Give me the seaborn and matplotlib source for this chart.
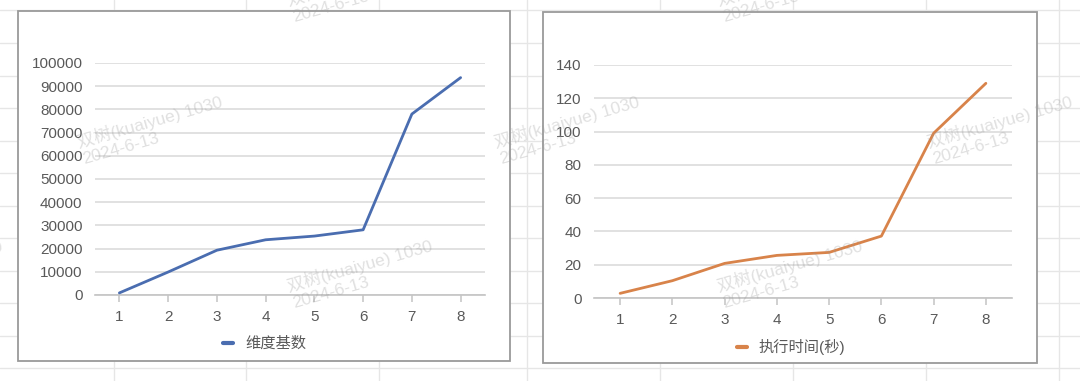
import matplotlib
matplotlib.use("Agg")
import matplotlib.pyplot as plt
from matplotlib.patches import Rectangle
from matplotlib.lines import Line2D
import seaborn as sns
import pandas as pd

# ---- data ----
categories = ['1', '2', '3', '4', '5', '6', '7', '8']
dim_cardinality = [900, 9900, 19300, 23800, 25400, 28100, 78000, 93700]
exec_time = [2.8, 10.4, 20.8, 25.6, 27.4, 37.2, 99, 129]
series_names = ['维度基数', '执行时间(秒)']
left_yticks = [0, 10000, 20000, 30000, 40000, 50000, 60000, 70000, 80000, 90000, 100000]
right_yticks = [0, 20, 40, 60, 80, 100, 120, 140]
watermark_text = '双树(kuaiyue) 1030\n2024-6-13'

sns.set_theme(style='white')
plt.rcParams['font.family'] = ['Liberation Sans', 'Noto Sans CJK SC', 'DejaVu Sans']

W, H = 1080, 381
fig = plt.figure(figsize=(W / 100, H / 100), dpi=100)
fig.patch.set_facecolor('white')

def fx(px):
    return px / W

def fy(py):
    return 1 - py / H

# spreadsheet background grid
for yy in [10, 43, 76, 108, 141, 173, 206, 238, 271, 303, 336, 368]:
    fig.add_artist(Line2D([0, 1], [fy(yy), fy(yy)], color='#e6e6e6', lw=1, zorder=-3))
for xx in [114, 246, 379, 527, 660, 793, 926, 1059]:
    fig.add_artist(Line2D([fx(xx), fx(xx)], [0, 1], color='#e6e6e6', lw=1, zorder=-3))

# panel boxes
for (x0, y0, x1, y1) in [(18, 11, 510, 361), (543, 12, 1037, 363)]:
    fig.add_artist(Rectangle((fx(x0), fy(y1)), fx(x1 - x0), (y1 - y0) / H,
                             facecolor='white', edgecolor='#9a9a9a', lw=1.3, zorder=-1))

tick_color = '#595959'
grid_color = '#d9d9d9'

def style_axes(ax, yticks):
    ax.set_facecolor('none')
    ax.set_xlim(-0.5, len(categories) - 0.5)
    ax.set_ylim(yticks[0], yticks[-1])
    ax.set_yticks(yticks)
    ax.set_yticklabels([str(v) for v in yticks])
    ax.set_xticks(range(len(categories)))
    ax.set_xticklabels(categories)
    ax.set_xlabel('')
    ax.set_ylabel('')
    for s in ['top', 'left', 'right']:
        ax.spines[s].set_visible(False)
    ax.spines['bottom'].set_color('#c4c4c4')
    ax.spines['bottom'].set_linewidth(1.2)
    ax.spines['bottom'].set_zorder(1)
    ax.yaxis.grid(True, color=grid_color, lw=1.1)
    ax.xaxis.grid(False)
    ax.set_axisbelow(True)
    ax.tick_params(axis='y', length=0, pad=9, labelsize=11, labelcolor=tick_color)
    ax.tick_params(axis='x', length=5, width=1.1, color='#c4c4c4', direction='out',
                   pad=6, labelsize=11, labelcolor=tick_color, bottom=True)
    if ax.get_legend() is not None:
        ax.get_legend().remove()

df_left = pd.DataFrame({'x': categories, 'y': dim_cardinality})
df_right = pd.DataFrame({'x': categories, 'y': exec_time})

ax1 = fig.add_axes([fx(95), fy(295), fx(485 - 95), (295 - 63) / H])
sns.lineplot(data=df_left, x='x', y='y', ax=ax1, color='#4a6db0', lw=2.0, sort=False)
style_axes(ax1, left_yticks)

ax2 = fig.add_axes([fx(594), fy(298), fx(1012 - 594), (298 - 65) / H])
sns.lineplot(data=df_right, x='x', y='y', ax=ax2, color='#d8834a', lw=2.0, sort=False)
style_axes(ax2, right_yticks)

# legends
for name, color, cx, cy in [(series_names[0], '#4a6db0', 265, 344),
                            (series_names[1], '#d8834a', 791, 347)]:
    h = Line2D([], [], color=color, lw=3)
    fig.legend([h], [name], loc='center', bbox_to_anchor=(fx(cx), fy(cy)),
               frameon=False, handlelength=0.65, handletextpad=0.8,
               prop={'size': 11}, labelcolor=tick_color)

# watermarks
for (wx, wy) in [(80, 150), (497, 150), (930, 150), (290, 294), (720, 294),
                 (-140, 294), (290, 8), (720, 8)]:
    fig.text(fx(wx), fy(wy), watermark_text, rotation=16, rotation_mode='anchor',
             ha='left', va='center', fontsize=12.5, color='#9a9a9a', alpha=0.3,
             linespacing=1.1, zorder=5)

fig.savefig('out.png', dpi=100, facecolor='white')
